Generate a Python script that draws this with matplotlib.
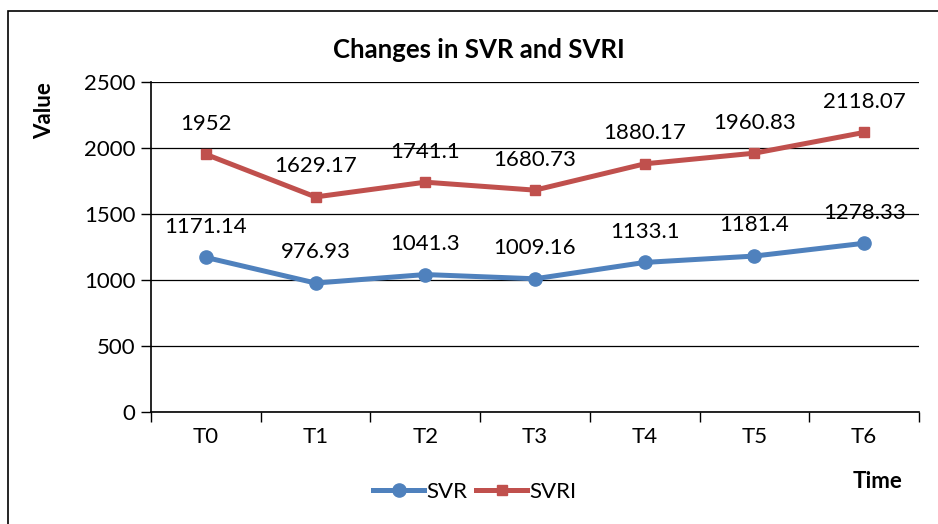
import matplotlib.pyplot as plt
from matplotlib.patches import Rectangle

# data
times = ["T0", "T1", "T2", "T3", "T4", "T5", "T6"]
svr = [1171.14, 976.93, 1041.3, 1009.16, 1133.1, 1181.4, 1278.33]
svri = [1952, 1629.17, 1741.1, 1680.73, 1880.17, 1960.83, 2118.07]
svr_labels = ["1171.14", "976.93", "1041.3", "1009.16", "1133.1", "1181.4", "1278.33"]
svri_labels = ["1952", "1629.17", "1741.1", "1680.73", "1880.17", "1960.83", "2118.07"]
yticks = [0, 500, 1000, 1500, 2000, 2500]

blue = "#4F81BD"
red = "#C0504D"

plt.rcParams['font.family'] = ['Lato', 'DejaVu Sans']

fig = plt.figure(figsize=(9.38, 5.24), dpi=100)
# outer chart frame (cut off at right and bottom like the screenshot)
fig.patches.append(Rectangle((8 / 938, -0.05), 1.0, 1 - 11 / 524 + 0.05,
                             transform=fig.transFigure, fill=False,
                             edgecolor="black", linewidth=1.2))

ax = fig.add_axes([151 / 938, 112 / 524, 768 / 938, 330 / 524])
x = list(range(len(times)))

l1, = ax.plot(x, svr, color=blue, linewidth=3.6, marker="o", markersize=9.5,
              label="SVR", zorder=3)
l2, = ax.plot(x, svri, color=red, linewidth=3.6, marker="s", markersize=7.5,
              label="SVRI", zorder=3)

for i in x:
    ax.annotate(svr_labels[i], (i, svr[i]), xytext=(0, 22), textcoords="offset points",
                ha="center", va="center", fontsize=16)
    ax.annotate(svri_labels[i], (i, svri[i]), xytext=(0, 22), textcoords="offset points",
                ha="center", va="center", fontsize=16)

ax.set_xlim(-0.5, len(times) - 0.5)
ax.set_ylim(0, 2500)
ax.set_yticks(yticks)
ax.set_yticklabels([str(v) for v in yticks], fontsize=16)
ax.set_xticks(x)
ax.set_xticklabels(times, fontsize=16)
ax.tick_params(axis="x", length=0, pad=11)
ax.set_xticks([i - 0.5 for i in range(len(times) + 1)], minor=True)
ax.tick_params(axis="x", which="minor", length=7, width=1, direction="out")
ax.tick_params(axis="y", length=7, width=1, direction="out", pad=4)
ax.grid(axis="y", color="black", linewidth=0.9)
ax.set_axisbelow(True)
for s in ["top", "right"]:
    ax.spines[s].set_visible(False)
ax.spines["left"].set_linewidth(1.2)
ax.spines["bottom"].set_linewidth(1.2)

fig.text(479 / 938, 1 - 50 / 524, "Changes in SVR and SVRI", ha="center", va="center",
         fontsize=18.5, fontweight="bold")
fig.text(45 / 938, 1 - 111 / 524, "Value", ha="center", va="center", rotation=90,
         fontsize=16, fontweight="bold")
fig.text(878 / 938, 1 - 481 / 524, "Time", ha="center", va="center",
         fontsize=16, fontweight="bold")

fig.legend(handles=[l1, l2], loc="center", bbox_to_anchor=(475 / 938, 1 - 492 / 524),
           ncol=2, frameon=False, fontsize=16, handlelength=2.3, handletextpad=0.1,
           columnspacing=0.4)

fig.savefig("out.png", dpi=100)
